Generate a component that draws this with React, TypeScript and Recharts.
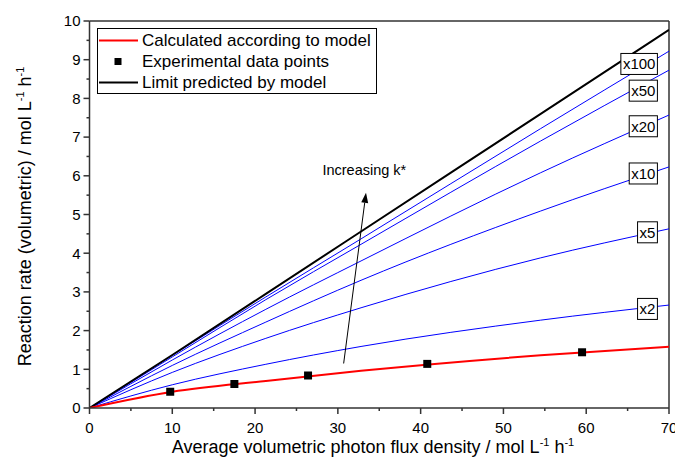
import React from "react";
import {
  ComposedChart,
  Line,
  Scatter,
  XAxis,
  YAxis,
  ReferenceLine,
  ReferenceDot,
} from "recharts";

document.body.style.margin = "0";

const FONT = "'Liberation Sans', Arial, sans-serif";

const xSamples = [0, 10, 21.3, 32.8, 54.5, 70];

const limitValues = [0, 1.37, 2.95, 4.56, 7.6, 9.77];
const modelValues = [0, 0.42, 0.7, 0.96, 1.36, 1.58];
const k2Values = [0, 0.6, 1.13, 1.59, 2.27, 2.66];
const k5Values = [0, 0.92, 1.8, 2.59, 3.88, 4.63];
const k10Values = [0, 1.1, 2.22, 3.3, 5.09, 6.23];
const k20Values = [0, 1.24, 2.55, 3.8, 6.08, 7.57];
const k50Values = [0, 1.32, 2.8, 4.23, 6.9, 8.73];
const k100Values = [0, 1.36, 2.87, 4.37, 7.22, 9.22];

const expX = [9.75, 17.5, 26.4, 40.8, 59.5];
const expY = [0.42, 0.62, 0.84, 1.14, 1.44];

const tagNames = ["x100", "x50", "x20", "x10", "x5", "x2"];
const tagY = [8.89, 8.2, 7.28, 6.06, 4.54, 2.56];
const tagRight = 68.6;

const xTicks = [0, 5, 10, 15, 20, 25, 30, 35, 40, 45, 50, 55, 60, 65, 70];
const yTicks = [0, 0.5, 1, 1.5, 2, 2.5, 3, 3.5, 4, 4.5, 5, 5.5, 6, 6.5, 7, 7.5, 8, 8.5, 9, 9.5, 10];

const toSeries = (vals: number[]) => xSamples.map((x, i) => ({ x, y: vals[i] }));
const blueSeries = [k2Values, k5Values, k10Values, k20Values, k50Values, k100Values];
const expData = expX.map((x, i) => ({ x, y: expY[i] }));

const AXIS = "#333";

const XTick = (props: any) => {
  const { x, y, payload } = props;
  const major = payload.value % 10 === 0;
  return (
    <g>
      <line x1={x} x2={x} y1={y} y2={y + (major ? 6 : 3)} stroke={AXIS} strokeWidth={1.5} />
      {major && (
        <text x={x} y={y + 24.5} textAnchor="middle" fontSize={15} fontFamily={FONT} fill="#000">
          {payload.value}
        </text>
      )}
    </g>
  );
};

const YTick = (props: any) => {
  const { x, y, payload } = props;
  const major = Number.isInteger(payload.value);
  return (
    <g>
      <line x1={x} x2={x - (major ? 6 : 3)} y1={y} y2={y} stroke={AXIS} strokeWidth={1.5} />
      {major && (
        <text x={x - 9} y={y + 5.3} textAnchor="end" fontSize={15} fontFamily={FONT} fill="#000">
          {payload.value}
        </text>
      )}
    </g>
  );
};

const Unit = () => (
  <>
    {" / mol L"}
    <tspan dy={-7} fontSize={11}>-1</tspan>
    <tspan dy={7}> h</tspan>
    <tspan dy={-7} fontSize={11}>-1</tspan>
  </>
);

const XLabel = () => (
  <text x={373} y={453} textAnchor="middle" fontSize={18} fontFamily={FONT} fill="#000">
    Average volumetric photon flux density
    <Unit />
  </text>
);

const YLabel = (props: any) => {
  const { viewBox } = props;
  const cy = viewBox.y + viewBox.height / 2 + 2;
  return (
    <text
      x={31}
      y={cy}
      transform={`rotate(-90, 31, ${cy})`}
      textAnchor="middle"
      fontSize={18}
      fontFamily={FONT}
      fill="#000"
    >
      Reaction rate (volumetric)
      <Unit />
    </text>
  );
};

const charW = (s: string) => s.split("").reduce((w, c) => w + (c === "x" ? 7.5 : 8.35), 0);

const TagBox = (text: string) => (props: any) => {
  const { cx, cy } = props;
  const w = charW(text) + 4;
  return (
    <g>
      <rect x={cx - w} y={cy - 10.5} width={w} height={21} fill="#fff" stroke="#000" strokeWidth={1} />
      <text x={cx - 2} y={cy + 5.5} textAnchor="end" fontSize={15} fontFamily={FONT} fill="#000">
        {text}
      </text>
    </g>
  );
};

const Arrow = (props: any) => {
  const { x1, y1, x2, y2 } = props;
  const ang = Math.atan2(y2 - y1, x2 - x1);
  const len = 10;
  const half = 3.5;
  const bx = x2 - len * Math.cos(ang);
  const by = y2 - len * Math.sin(ang);
  const px = -Math.sin(ang) * half;
  const py = Math.cos(ang) * half;
  return (
    <g>
      <line x1={x1} y1={y1} x2={bx} y2={by} stroke="#000" strokeWidth={1} />
      <polygon points={`${x2},${y2} ${bx + px},${by + py} ${bx - px},${by - py}`} fill="#000" />
    </g>
  );
};

const ArrowText = (props: any) => {
  const { cx, cy } = props;
  return (
    <text x={cx} y={cy} textAnchor="middle" fontSize={14.5} fontFamily={FONT} fill="#000">
      Increasing k*
    </text>
  );
};

const legendRows = [
  { name: "Calculated according to model", kind: "line", color: "#ff0000" },
  { name: "Experimental data points", kind: "square", color: "#000" },
  { name: "Limit predicted by model", kind: "line", color: "#000" },
];

function ChartLegend() {
  return (
    <div
      style={{
        position: "absolute",
        left: 97,
        top: 28,
        width: 280,
        height: 66,
        border: "1px solid #000",
        background: "#fff",
        boxSizing: "border-box",
        paddingTop: 1,
        fontFamily: FONT,
        fontSize: 17,
      }}
    >
      {legendRows.map((r) => (
        <div key={r.name} style={{ height: 21, display: "flex", alignItems: "center" }}>
          <svg width={44} height={21} style={{ flex: "none" }}>
            {r.kind === "line" ? (
              <line x1={1} x2={40} y1={10.5} y2={10.5} stroke={r.color} strokeWidth={2} />
            ) : (
              <rect x={16.5} y={7} width={7} height={7} fill={r.color} />
            )}
          </svg>
          <span style={{ whiteSpace: "nowrap", lineHeight: "21px" }}>{r.name}</span>
        </div>
      ))}
    </div>
  );
}

export default function App() {
  return (
    <div style={{ position: "relative", width: 675, height: 466, background: "#fff" }}>
      <ComposedChart width={675} height={466} margin={{ top: 21, right: 6, left: 30, bottom: 28 }}>
        <XAxis
          dataKey="x"
          type="number"
          domain={[0, 70]}
          ticks={xTicks}
          interval={0}
          tickSize={0}
          tickMargin={0}
          tick={<XTick />}
          height={30}
          axisLine={{ stroke: AXIS, strokeWidth: 1.5 }}
          label={{ content: XLabel }}
          allowDataOverflow
        />
        <YAxis
          dataKey="y"
          type="number"
          domain={[0, 10]}
          ticks={yTicks}
          interval={0}
          tickSize={0}
          tickMargin={0}
          tick={<YTick />}
          width={59.5}
          axisLine={{ stroke: AXIS, strokeWidth: 1.5 }}
          label={{ content: YLabel }}
          allowDataOverflow
        />
        <ReferenceLine y={10} stroke={AXIS} strokeWidth={1.5} />
        <ReferenceLine x={70} stroke={AXIS} strokeWidth={1.5} />
        {blueSeries.map((vals, i) => (
          <Line
            key={i}
            data={toSeries(vals)}
            dataKey="y"
            type="monotone"
            stroke="#0000ff"
            strokeWidth={1}
            dot={false}
            isAnimationActive={false}
          />
        ))}
        <Line
          data={toSeries(limitValues)}
          dataKey="y"
          type="monotone"
          stroke="#000"
          strokeWidth={2}
          dot={false}
          isAnimationActive={false}
        />
        <Line
          data={toSeries(modelValues)}
          dataKey="y"
          type="monotone"
          stroke="#ff0000"
          strokeWidth={2}
          dot={false}
          isAnimationActive={false}
        />
        <Scatter data={expData} dataKey="y" fill="#000" shape="square" isAnimationActive={false} />
        {tagNames.map((t, i) => (
          <ReferenceDot key={t} x={tagRight} y={tagY[i]} r={0} shape={TagBox(t)} />
        ))}
        <ReferenceLine
          segment={[
            { x: 30.7, y: 1.15 },
            { x: 33.4, y: 5.56 },
          ]}
          shape={<Arrow />}
        />
        <ReferenceDot x={33.2} y={6.01} r={0} shape={<ArrowText />} />
      </ComposedChart>
      <ChartLegend />
    </div>
  );
}
